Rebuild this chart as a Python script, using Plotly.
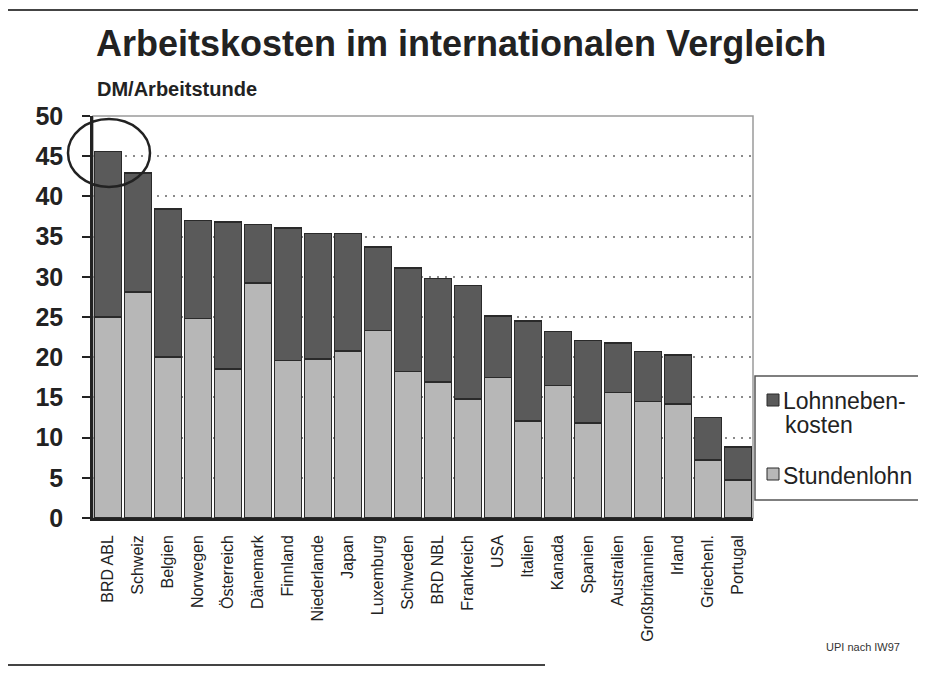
import plotly.graph_objects as go

categories = ["BRD ABL", "Schweiz", "Belgien", "Norwegen", "Österreich", "Dänemark",
              "Finnland", "Niederlande", "Japan", "Luxemburg", "Schweden", "BRD NBL",
              "Frankreich", "USA", "Italien", "Kanada", "Spanien", "Australien",
              "Großbritannien", "Irland", "Griechenl.", "Portugal"]
totals = [45.6, 42.9, 38.4, 37.0, 36.8, 36.5, 36.1, 35.4, 35.4, 33.7, 31.1, 29.8,
          28.9, 25.1, 24.5, 23.2, 22.1, 21.8, 20.7, 20.3, 12.5, 8.8]
stundenlohn = [25.0, 28.1, 20.0, 24.8, 18.5, 29.2, 19.6, 19.8, 20.8, 23.3, 18.2, 16.9,
               14.8, 17.5, 12.1, 16.5, 11.8, 15.6, 14.5, 14.2, 7.2, 4.7]
lohnnebenkosten = [round(t - s, 1) for t, s in zip(totals, stundenlohn)]
y_ticks = [0, 5, 10, 15, 20, 25, 30, 35, 40, 45, 50]

FONT = "Liberation Sans, Arial, sans-serif"
DARK = "#5a5a5a"
LIGHT = "#b7b7b7"
EDGE = "#2a2a2a"

fig = go.Figure()
fig.add_trace(go.Bar(
    x=categories, y=stundenlohn, name="Stundenlohn",
    marker=dict(color=LIGHT, line=dict(color=EDGE, width=1.6)),
))
fig.add_trace(go.Bar(
    x=categories, y=lohnnebenkosten, name="Lohnnebenkosten",
    marker=dict(color=DARK, line=dict(color=EDGE, width=1.6)),
))


def px_x(p):
    return (p - 93) / 660.0


def px_y(p):
    return (518 - p) / 402.0


shapes = [
    # plot frame (top/right in gray)
    dict(type="rect", xref="paper", yref="paper", x0=0, x1=1, y0=0, y1=1,
         line=dict(color="#9a9a9a", width=1.5), layer="below"),
    # circle around the highest bar
    dict(type="circle", xref="paper", yref="paper", x0=px_x(68), x1=px_x(150),
         y0=px_y(187), y1=px_y(119), line=dict(color="#222", width=2.5)),
    # slide border lines
    dict(type="line", xref="paper", yref="paper", x0=px_x(0), x1=px_x(926), y0=px_y(10), y1=px_y(10),
         line=dict(color="#444", width=2)),
    dict(type="line", xref="paper", yref="paper", x0=px_x(0), x1=px_x(545), y0=px_y(665), y1=px_y(665),
         line=dict(color="#444", width=2)),
    # legend box
    dict(type="rect", xref="paper", yref="paper", x0=px_x(755), x1=px_x(960), y0=px_y(500), y1=px_y(376),
         line=dict(color="#555", width=1.5), fillcolor="white"),
    # legend swatches
    dict(type="rect", xref="paper", yref="paper", x0=px_x(767), x1=px_x(779), y0=px_y(406), y1=px_y(394),
         line=dict(color=EDGE, width=1), fillcolor=DARK),
    dict(type="rect", xref="paper", yref="paper", x0=px_x(767), x1=px_x(779), y0=px_y(480), y1=px_y(468),
         line=dict(color=EDGE, width=1), fillcolor=LIGHT),
]

annotations = [
    dict(text="<b>Arbeitskosten im internationalen Vergleich</b>",
         xref="paper", yref="paper", x=px_x(94), y=px_y(44), xanchor="left", yanchor="middle",
         showarrow=False, font=dict(size=36, color="#222", family=FONT)),
    dict(text="<b>DM/Arbeitstunde</b>",
         xref="paper", yref="paper", x=px_x(95), y=px_y(89), xanchor="left", yanchor="middle",
         showarrow=False, font=dict(size=20, color="#222", family=FONT)),
    dict(text="UPI nach IW97",
         xref="paper", yref="paper", x=px_x(902), y=px_y(647), xanchor="right", yanchor="middle",
         showarrow=False, font=dict(size=11, color="#333", family=FONT)),
    # legend texts
    dict(text="Lohnneben-", xref="paper", yref="paper", x=px_x(781), y=px_y(401),
         xanchor="left", yanchor="middle", showarrow=False,
         font=dict(size=23, color="#222", family=FONT)),
    dict(text="kosten", xref="paper", yref="paper", x=px_x(783), y=px_y(425),
         xanchor="left", yanchor="middle", showarrow=False,
         font=dict(size=23, color="#222", family=FONT)),
    dict(text="Stundenlohn", xref="paper", yref="paper", x=px_x(781), y=px_y(476),
         xanchor="left", yanchor="middle", showarrow=False,
         font=dict(size=23, color="#222", family=FONT)),
]

# the page has an 8px body margin, so the figure is sized to fill the window
fig.update_layout(
    width=918, height=665,
    barmode="stack", bargap=0.1,
    showlegend=False,
    paper_bgcolor="white", plot_bgcolor="white",
    margin=dict(l=85, r=173, t=108, b=155),
    font=dict(family=FONT, color="#222"),
    xaxis=dict(
        range=[-0.5, len(categories) - 0.5],
        tickangle=-90, tickfont=dict(size=16, color="#222"),
        ticklabelstandoff=8,
        showline=True, linecolor="#222", linewidth=2.5,
        ticks="", showgrid=False,
    ),
    yaxis=dict(
        range=[0, 50], tickvals=y_ticks,
        tickfont=dict(size=25, color="#222", weight="bold"),
        ticklabelstandoff=14,
        showline=True, linecolor="#222", linewidth=2.5,
        ticks="outside", ticklen=8, tickcolor="#222", tickwidth=1.5,
        showgrid=True, gridcolor="#8a8a8a", griddash="2px,6px", gridwidth=1.5,
        zeroline=False,
    ),
    shapes=shapes,
    annotations=annotations,
)

fig.write_html("out.html")
